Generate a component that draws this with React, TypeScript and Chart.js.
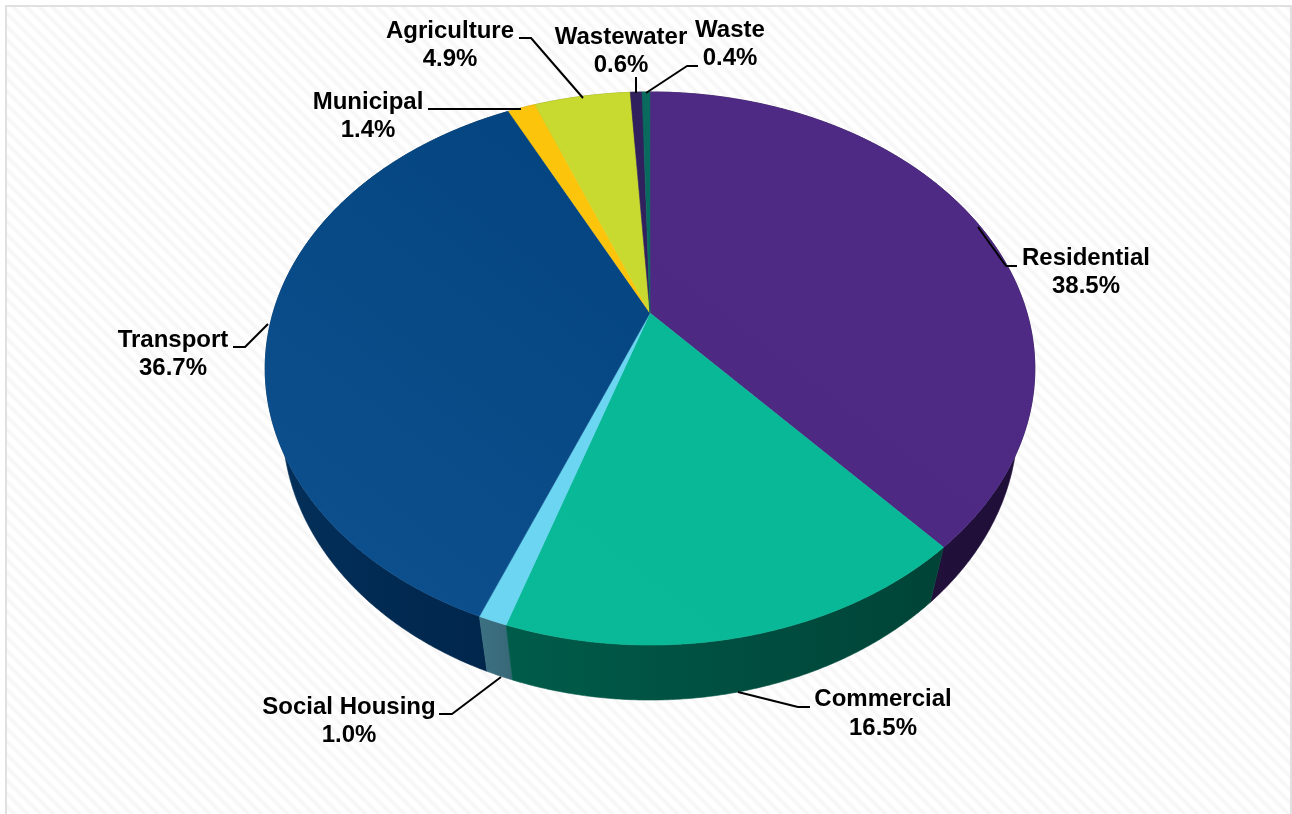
import React, { useEffect, useRef } from "react";
import { Chart, registerables } from "chart.js";

Chart.register(...registerables);

const categories = ["Residential", "Commercial", "Social Housing", "Transport", "Municipal", "Agriculture", "Wastewater", "Waste"];
const shares = [38.5, 16.5, 1.0, 36.7, 1.4, 4.9, 0.6, 0.4];
const topColors = ["#4e2a84", "#07b795", "#6bd5f2", "#01427c", "#fdc40c", "#c8d92f", "#30205e", "#0a6a5e"];
const topColorsFar = ["#4c2881", "#0ab998", "#6bd5f2", "#0d508e", "#fdc40c", "#c8d92f", "#30205e", "#0a6a5e"];
const sideLight = ["#24123f", "#005c4a", "#3c7182", "#03305b", "#a07c08", "#7f8a1e", "#1e143c", "#06433c"];
const sideDark = ["#1f0f38", "#004337", "#386878", "#00254a", "#a07c08", "#7f8a1e", "#1e143c", "#06433c"];

// label layout: centre x, first-line y, leader polyline
const labelX = [1086, 883, 349, 173, 368, 450, 621, 730];
const labelY = [258, 699.5, 707, 340, 102, 31, 37, 30];
const leaders = [
  [[978, 227], [1006, 266], [1017, 266]],
  [[738, 692], [798, 707], [810, 707]],
  [[501, 677], [452, 714], [439, 714]],
  [[268, 324], [245, 347], [233, 347]],
  [[521, 109], [428, 109]],
  [[583, 98], [531, 38], [519, 38]],
  [[636, 93], [636, 77]],
  [[646, 93], [687, 66], [698, 66]],
];

// tilt of the disc
const CX = 650, CY = 313, RX = 377, RY = 265.4, K = 0.2007;
const DEPTH = 55, BOTTOM_SCALE = 0.955;

const top3d = (a: number): [number, number] => {
  const x = Math.cos(a), y = Math.sin(a);
  const w = 1 - K * y;
  return [CX + (RX * x) / w, CY + (RY * y) / w];
};
const bottom3d = (a: number): [number, number] => {
  const [x, y] = top3d(a);
  return [CX + BOTTOM_SCALE * (x - CX), y + DEPTH];
};
const arcAngles = (start: number, end: number): number[] => {
  const n = Math.max(2, Math.ceil((end - start) / 0.006));
  const out: number[] = [];
  for (let i = 0; i <= n; i++) out.push(start + ((end - start) * i) / n);
  return out;
};

const makeHatch = (ctx: CanvasRenderingContext2D) => {
  const N = 13;
  const tile = document.createElement("canvas");
  tile.width = N;
  tile.height = N;
  const t = tile.getContext("2d")!;
  for (let x = 0; x < N; x++) {
    for (let y = 0; y < N; y++) {
      const p = (((x - y) % N) + N) % N;
      const d = Math.abs(p / N - 0.5) * 2;
      const v = Math.round(245 + 10 * Math.min(1, d * 1.4));
      t.fillStyle = `rgb(${v},${v},${v})`;
      t.fillRect(x, y, 1, 1);
    }
  }
  return ctx.createPattern(tile, "repeat")!;
};

const frame = {
  id: "frame",
  beforeDraw(chart: any) {
    const ctx = chart.ctx as CanvasRenderingContext2D;
    ctx.save();
    ctx.fillStyle = "#ffffff";
    ctx.fillRect(0, 0, chart.width, chart.height);
    ctx.fillStyle = "#e0e0e0";
    ctx.fillRect(5, 5, chart.width - 5, chart.height - 5);
    ctx.fillStyle = makeHatch(ctx);
    ctx.fillRect(7, 7, chart.width - 9, chart.height - 7);
    ctx.restore();
  },
};

const tiltedPie = {
  id: "tiltedPie",
  beforeDatasetDraw(chart: any, args: any) {
    const ctx = chart.ctx as CanvasRenderingContext2D;
    const arcs = chart.getDatasetMeta(args.index).data;
    ctx.save();
    // sides, back to front
    const order = arcs
      .map((_: any, i: number) => i)
      .sort((a: number, b: number) => {
        const ma = (arcs[a].startAngle + arcs[a].endAngle) / 2;
        const mb = (arcs[b].startAngle + arcs[b].endAngle) / 2;
        return top3d(ma)[1] - top3d(mb)[1];
      });
    order.forEach((i: number) => {
      const arc = arcs[i];
      const angles = arcAngles(arc.startAngle, arc.endAngle);
      const tops = angles.map(top3d);
      const bots = angles.map(bottom3d);
      const xs = tops.concat(bots).map((p) => p[0]);
      const g = ctx.createLinearGradient(Math.min(...xs), 0, Math.max(...xs), 0);
      g.addColorStop(0, sideLight[i]);
      g.addColorStop(1, sideDark[i]);
      ctx.fillStyle = g;
      ctx.strokeStyle = g;
      ctx.lineWidth = 0.6;
      ctx.beginPath();
      tops.forEach((p, k) => (k ? ctx.lineTo(p[0], p[1]) : ctx.moveTo(p[0], p[1])));
      bots.reverse().forEach((p) => ctx.lineTo(p[0], p[1]));
      ctx.closePath();
      ctx.fill();
      ctx.stroke();
    });
    // top face: shading runs from the upper right towards the lower left
    const g0 = (i: number, base: string) => {
      const g = ctx.createLinearGradient(CX + 100, CY - 220, CX - 300, CY + 300);
      g.addColorStop(0, base);
      g.addColorStop(1, topColorsFar[i]);
      return g;
    };
    arcs.forEach((arc: any, i: number) => {
      const fill = g0(i, arc.options.backgroundColor);
      ctx.fillStyle = fill;
      ctx.strokeStyle = fill;
      ctx.lineWidth = 0.6;
      ctx.beginPath();
      ctx.moveTo(CX, CY);
      arcAngles(arc.startAngle, arc.endAngle).map(top3d).forEach((p) => ctx.lineTo(p[0], p[1]));
      ctx.closePath();
      ctx.fill();
      ctx.stroke();
    });
    ctx.restore();
    return false;
  },
  afterDatasetsDraw(chart: any) {
    const ctx = chart.ctx as CanvasRenderingContext2D;
    const values = chart.data.datasets[0].data as number[];
    ctx.save();
    ctx.strokeStyle = "#000000";
    ctx.lineWidth = 2;
    ctx.lineJoin = "round";
    leaders.forEach((line) => {
      ctx.beginPath();
      line.forEach((p, k) => (k ? ctx.lineTo(p[0], p[1]) : ctx.moveTo(p[0], p[1])));
      ctx.stroke();
    });
    ctx.fillStyle = "#000000";
    ctx.font = "bold 24px 'Liberation Sans', Arial, sans-serif";
    ctx.textAlign = "center";
    ctx.textBaseline = "middle";
    chart.data.labels.forEach((name: string, i: number) => {
      ctx.fillText(name, labelX[i], labelY[i]);
      ctx.fillText(`${values[i].toFixed(1)}%`, labelX[i], labelY[i] + 28.5);
    });
    ctx.restore();
  },
};

export default function App() {
  const ref = useRef<HTMLCanvasElement>(null);
  useEffect(() => {
    const chart = new Chart(ref.current!, {
      type: "pie",
      data: {
        labels: categories,
        datasets: [{ data: shares, backgroundColor: topColors, borderWidth: 0 }],
      },
      options: {
        animation: false,
        responsive: false,
        rotation: 0,
        plugins: { legend: { display: false }, tooltip: { enabled: false }, title: { display: false } },
      },
      plugins: [frame, tiltedPie],
    } as any);
    return () => chart.destroy();
  }, []);
  return (
    <div style={{ position: "fixed", left: 0, top: 0, width: 1292, height: 814 }}>
      <canvas ref={ref} width={1292} height={814} style={{ display: "block" }} />
    </div>
  );
}
